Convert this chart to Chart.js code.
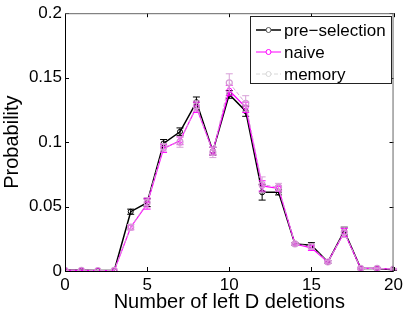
<!DOCTYPE html>
<html>
<head>
<meta charset="utf-8">
<script src="https://cdn.jsdelivr.net/npm/chart.js@4/dist/chart.umd.min.js"></script>
<style>
  html, body { margin: 0; padding: 0; background: #fff; }
  #wrap { width: 407px; height: 316px; }
</style>
</head>
<body>
<div id="wrap"><canvas id="grafico"></canvas></div>
<script>
const deletions = [0, 1, 2, 3, 4, 5, 6, 7, 8, 9, 10, 11, 12, 13, 14, 15, 16, 17, 18, 19, 20];
const preSelection = [0.0005, 0.0005, 0.0003, 0.0004, 0.046, 0.053, 0.099, 0.108, 0.131, 0.093, 0.137, 0.124, 0.061, 0.061, 0.021, 0.020, 0.007, 0.031, 0.002, 0.002, 0.001];
const naive = [0.0005, 0.0005, 0.0004, 0.0004, 0.034, 0.052, 0.095, 0.101, 0.127, 0.093, 0.140, 0.127, 0.066, 0.064, 0.021, 0.018, 0.007, 0.030, 0.002, 0.002, 0.0015];
const memory = [0.0005, 0.0006, 0.0004, 0.0005, 0.034, 0.053, 0.096, 0.100, 0.128, 0.092, 0.146, 0.130, 0.067, 0.065, 0.021, 0.019, 0.007, 0.030, 0.002, 0.002, 0.0015];
const preErr = [0, 0, 0, 0, 0.002, 0.003, 0.003, 0.003, 0.004, 0.003, 0.003, 0.004, 0.006, 0.002, 0.001, 0.002, 0.001, 0.003, 0.0005, 0.0005, 0.0005];
const naiveErr = [0, 0, 0, 0, 0.002, 0.004, 0.003, 0.003, 0.004, 0.003, 0.004, 0.004, 0.004, 0.002, 0.001, 0.002, 0.001, 0.003, 0.0005, 0.0005, 0.0005];
const memoryErr = [0, 0, 0, 0, 0.002, 0.004, 0.003, 0.004, 0.004, 0.004, 0.007, 0.006, 0.006, 0.003, 0.001, 0.002, 0.001, 0.004, 0.0005, 0.0005, 0.0005];
const xTicks = [0, 5, 10, 15, 20];
const yTicks = [0, 0.05, 0.1, 0.15, 0.2];

const fuente = "'Liberation Sans', Arial, Helvetica, sans-serif";

function puntos(valores) {
  return deletions.map((x, i) => ({ x: x, y: valores[i] }));
}

// barras de error dibujadas con las escalas del grafico
const barrasError = {
  id: "barrasError",
  afterDatasetDraw(chart, args) {
    const ds = chart.data.datasets[args.index];
    if (!ds.errores) return;
    const ctx = chart.ctx;
    const xs = chart.scales.x, ys = chart.scales.y;
    ctx.save();
    ctx.strokeStyle = ds.borderColor;
    ctx.lineWidth = 1;
    ds.data.forEach((p, i) => {
      const e = ds.errores[i];
      if (!e) return;
      const px = xs.getPixelForValue(p.x);
      const y1 = ys.getPixelForValue(p.y - e);
      const y2 = ys.getPixelForValue(p.y + e);
      ctx.beginPath();
      ctx.moveTo(px, y1); ctx.lineTo(px, y2);
      ctx.moveTo(px - 3.5, y1); ctx.lineTo(px + 3.5, y1);
      ctx.moveTo(px - 3.5, y2); ctx.lineTo(px + 3.5, y2);
      ctx.stroke();
    });
    ctx.restore();
  },
};

// caja, marcas hacia dentro y leyenda al estilo matlab
const marco = {
  id: "marco",
  afterDraw(chart) {
    const ctx = chart.ctx;
    const a = chart.chartArea;
    const xs = chart.scales.x, ys = chart.scales.y;
    ctx.save();
    ctx.lineWidth = 1;
    ctx.strokeStyle = "#000";
    ctx.beginPath();
    xTicks.forEach((t) => {
      const px = Math.round(xs.getPixelForValue(t)) + 0.5;
      ctx.moveTo(px, a.bottom); ctx.lineTo(px, a.bottom - 4);
      ctx.moveTo(px, a.top); ctx.lineTo(px, a.top + 4);
    });
    yTicks.forEach((t) => {
      const py = Math.round(ys.getPixelForValue(t)) + 0.5;
      ctx.moveTo(a.left, py); ctx.lineTo(a.left + 4, py);
      ctx.moveTo(a.right, py); ctx.lineTo(a.right - 4, py);
    });
    ctx.stroke();
    ctx.strokeStyle = "#000";
    ctx.beginPath();
    ctx.moveTo(a.left + 0.5, a.top); ctx.lineTo(a.left + 0.5, a.bottom + 0.5);
    ctx.lineTo(a.right, a.bottom + 0.5);
    ctx.stroke();
    ctx.strokeStyle = "#666";
    ctx.beginPath();
    ctx.moveTo(a.left, a.top + 0.5); ctx.lineTo(a.right - 0.5, a.top + 0.5);
    ctx.lineTo(a.right - 0.5, a.bottom);
    ctx.stroke();

    // leyenda
    const lx = 250, ly = 16, lw = 141, lh = 67;
    ctx.fillStyle = "#fff";
    ctx.fillRect(lx, ly, lw, lh);
    ctx.strokeStyle = "#222";
    ctx.strokeRect(lx + 0.5, ly + 0.5, lw, lh);
    const filas = [
      { texto: "pre\u2212selection", color: "#000", marca: "#555", dash: [] },
      { texto: "naive", color: "#ff00ff", marca: "#ff00ff", dash: [] },
      { texto: "memory", color: "#d8d8d8", marca: "#d8d8d8", dash: [4, 2] },
    ];
    ctx.font = "17px " + fuente;
    ctx.textBaseline = "middle";
    filas.forEach((f, i) => {
      const y = ly + 14 + i * 22;
      ctx.strokeStyle = f.color;
      ctx.lineWidth = f.color === "#000" ? 1.5 : 1;
      ctx.setLineDash(f.dash);
      ctx.beginPath();
      ctx.moveTo(lx + 6, y); ctx.lineTo(lx + 31, y);
      ctx.stroke();
      ctx.setLineDash([]);
      ctx.lineWidth = 1;
      ctx.strokeStyle = f.marca;
      ctx.fillStyle = "#fff";
      ctx.beginPath();
      ctx.arc(lx + 18.5, y, 2.5, 0, Math.PI * 2);
      ctx.fill();
      ctx.stroke();
      ctx.fillStyle = "#000";
      ctx.fillText(f.texto, lx + 34, y + 1);
    });
    ctx.restore();
  },
};

const ctx = document.getElementById("grafico").getContext("2d");
new Chart(ctx, {
  type: "line",
  data: {
    datasets: [
      {
        label: "pre-selection",
        data: puntos(preSelection),
        errores: preErr,
        borderColor: "#000000",
        borderWidth: 1.5,
        pointBorderColor: "#000000",
        pointBackgroundColor: "rgba(0,0,0,0)",
        pointRadius: 2.5,
        pointBorderWidth: 1,
        order: 3,
      },
      {
        label: "naive",
        data: puntos(naive),
        errores: naiveErr,
        borderColor: "#ff00ff",
        borderWidth: 1.2,
        pointBorderColor: "#ff00ff",
        pointBackgroundColor: "rgba(0,0,0,0)",
        pointRadius: 2.5,
        pointBorderWidth: 1,
        order: 2,
      },
      {
        label: "memory",
        data: puntos(memory),
        errores: memoryErr,
        borderColor: "#d8a0d8",
        borderWidth: 1,
        borderDash: [4, 2],
        pointBorderColor: "#d49ad4",
        pointBackgroundColor: "rgba(0,0,0,0)",
        pointRadius: 3,
        pointBorderWidth: 1.2,
        order: 1,
      },
    ],
  },
  options: {
    responsive: true,
    maintainAspectRatio: false,
    animation: false,
    layout: { padding: { top: 12, right: 11, left: 0, bottom: 0 } },
    plugins: { legend: { display: false }, tooltip: { enabled: false } },
    elements: { line: { tension: 0 } },
    scales: {
      x: {
        type: "linear",
        min: 0,
        max: 20,
        afterFit: (s) => { s.height = 45; },
        afterBuildTicks: (s) => { s.ticks = xTicks.map((v) => ({ value: v })); },
        grid: { display: false, drawTicks: false },
        border: { display: false },
        ticks: { color: "#000", padding: 4, font: { family: fuente, size: 17 } },
        title: {
          display: true,
          text: "Number of left D deletions",
          color: "#000",
          font: { family: fuente, size: 20 },
          padding: { top: 0, bottom: 2 },
        },
      },
      y: {
        min: 0,
        max: 0.2,
        afterFit: (s) => { s.width = 65; },
        afterBuildTicks: (s) => { s.ticks = yTicks.map((v) => ({ value: v })); },
        grid: { display: false, drawTicks: false },
        border: { display: false },
        ticks: {
          color: "#000",
          padding: 3,
          font: { family: fuente, size: 17 },
          callback: (v) => String(Math.round(v * 100) / 100),
        },
        title: {
          display: true,
          text: "Probability",
          color: "#000",
          font: { family: fuente, size: 20 },
          padding: { top: 0, bottom: 2 },
        },
      },
    },
  },
  plugins: [barrasError, marco],
});
</script>
</body>
</html>
